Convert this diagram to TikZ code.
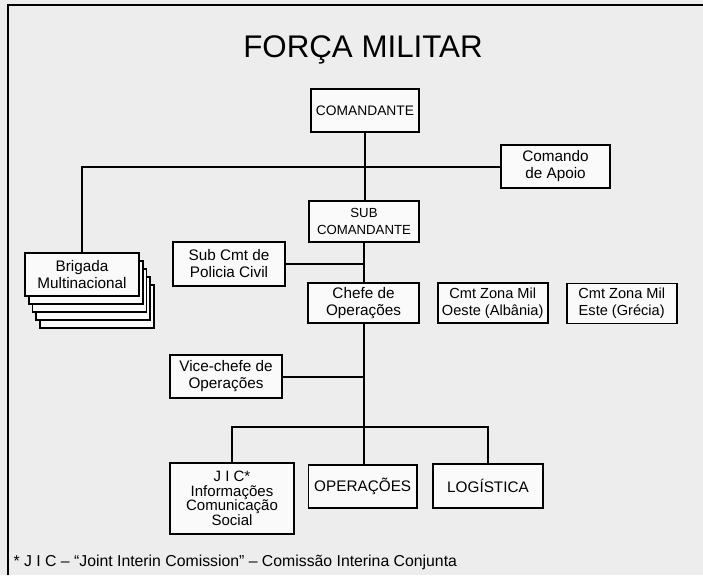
\documentclass[tikz,border=0pt]{standalone}
\usepackage{fontspec}
\setmainfont{Liberation Sans}
\usetikzlibrary{positioning}

\begin{document}
\begin{tikzpicture}[x=1pt,y=-1pt]
\tikzstyle{unit} = [rectangle, draw=black, line width=1.6pt, fill=black!2, inner sep=1pt, align=center, minimum width=110pt, minimum height=43pt, font=\fontsize{15.3}{17}\selectfont]
\tikzstyle{link} = [line width=2pt]

% page and frame
\fill[black!7] (0,0) rectangle (703,575);
\useasboundingbox (0,0) rectangle (703,575);
\draw[line width=2pt] (7.5,575) -- (7.5,5) -- (703,5);

\node (title) at (363,50) {\fontsize{31.3}{36}\selectfont FORÇA MILITAR};

\node (cmd) [unit, minimum width=108pt, font=\fontsize{13.8}{17}\selectfont] at (365,110.5) {COMANDANTE};
\node (apoio) [unit, minimum width=109pt] at (555.5,166.5) {Comando\\de Apoio};
\node (sub) [unit, minimum height=41pt, font=\fontsize{13.2}{17}\selectfont] at (364,221.5) {SUB\\COMANDANTE};
\node (policia) [unit, minimum width=112pt, minimum height=44pt] at (229,264) {Sub Cmt de\\Policia Civil};
\node (chefe) [unit, minimum width=111pt, minimum height=40pt] at (363.5,303) {Chefe de\\Operações};
\node (oeste) [unit, minimum height=40pt, font=\fontsize{14.6}{17}\selectfont] at (492.7,303) {Cmt Zona Mil\\Oeste (Albânia)};
\node (este) [unit, minimum height=40pt, font=\fontsize{14.6}{17}\selectfont] at (621.7,303.5) {Cmt Zona Mil\\Este (Grécia)};

% brigade stack
\foreach \k in {4,3,2,1}
  \node [unit, minimum width=114pt] at ({82+3.75*\k},{274.5+8*\k}) {};
\node (brigada) [unit, minimum width=114pt] at (82,274.5) {Brigada\\Multinacional};

\node (vice) [unit, minimum width=112pt] at (226,376.5) {Vice-chefe de\\Operações};
\node (jic) [unit, minimum width=124pt, minimum height=71pt, font=\fontsize{15}{14.5}\selectfont] at (232,498.5) {J I C*\\Informações\\Comunicação\\Social};
\node (oper) [unit, minimum width=108.5pt] at (362.7,486.5) {OPERAÇÕES};
\node (logis) [unit, minimum width=109.5pt, minimum height=44pt] at (488,486) {LOGÍSTICA};

\node (nota) [anchor=west, font=\fontsize{15.8}{17}\selectfont] at (10,562) {* J I C -- ``Joint Interin Comission'' -- Comissão Interina Conjunta};

\coordinate (bus) at (363,427);

\draw [link] (cmd.south) -- (cmd.south |- sub.north);
\draw [link] (sub.south) -- (sub.south |- chefe.north);
\draw [link] (chefe.south) -- (chefe.south |- oper.north);
\draw [link] (apoio.west) -| (brigada.north);
\draw [link] (policia.east) -- (policia.east -| sub.south);
\draw [link] (vice.east) -- (vice.east -| chefe.south);
\draw [link] (jic.north) |- (bus) -| (logis.north);

\end{tikzpicture}
\end{document}
